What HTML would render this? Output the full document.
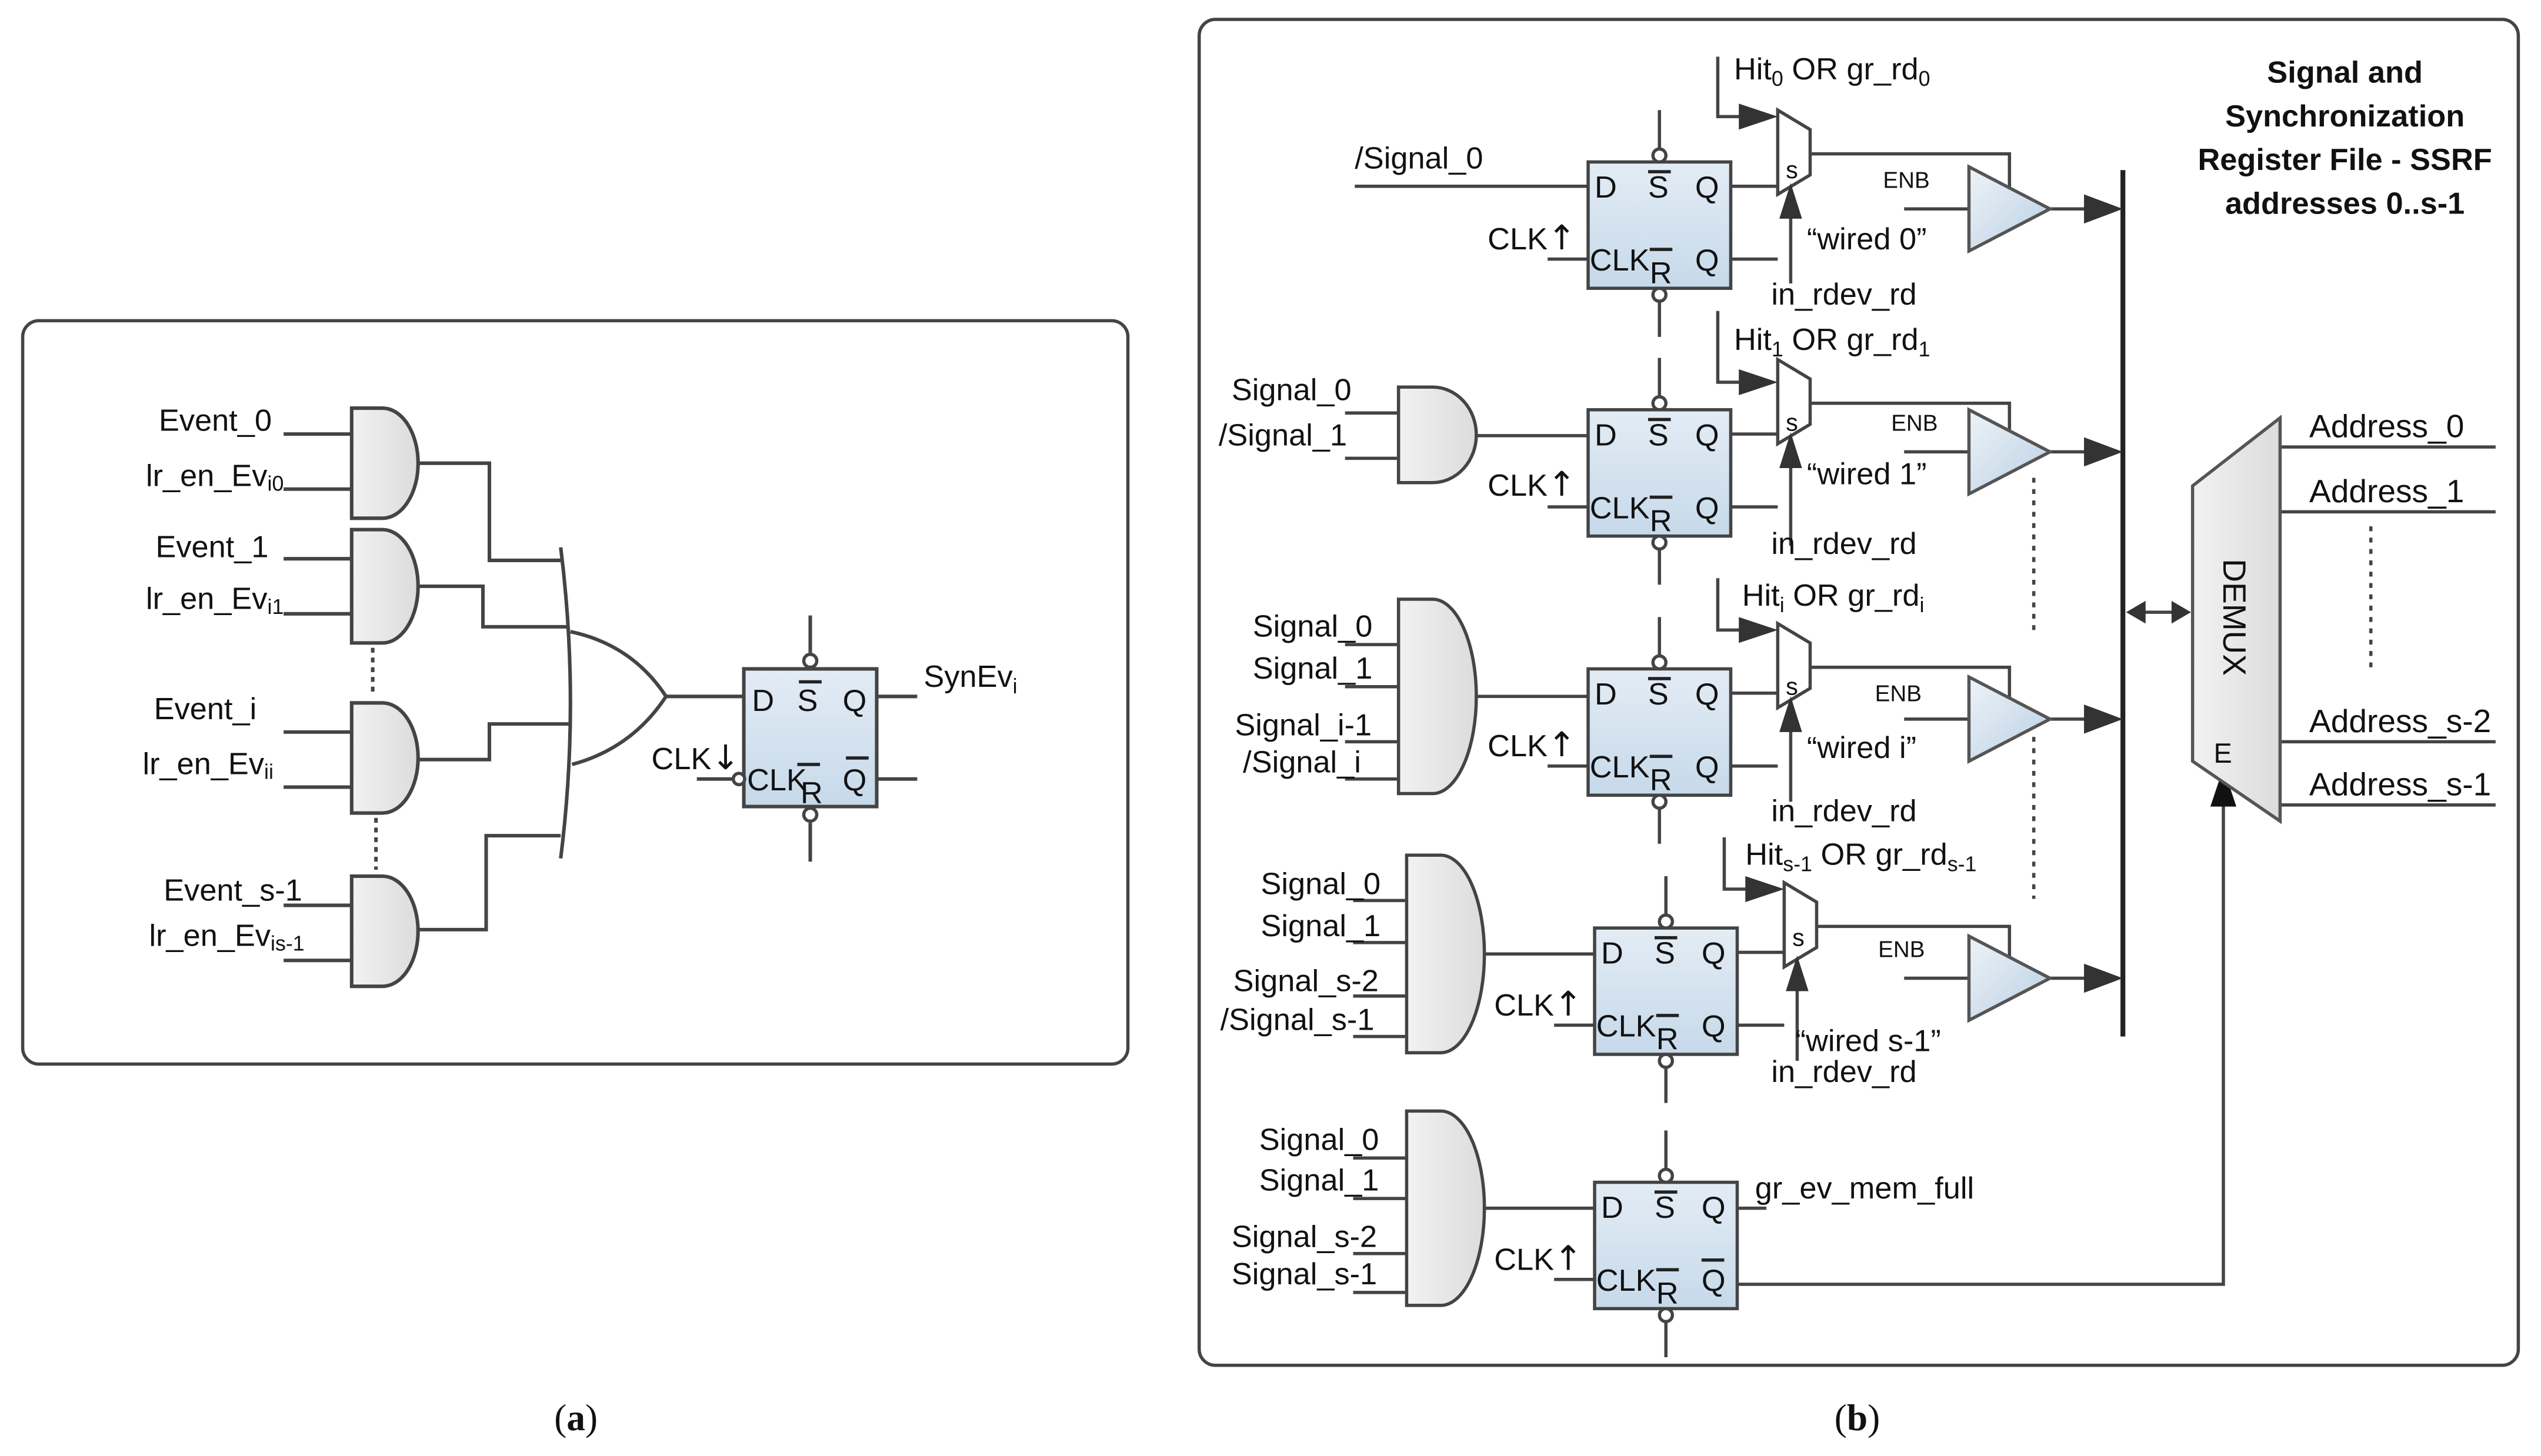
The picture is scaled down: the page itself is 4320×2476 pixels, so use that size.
<!DOCTYPE html>
<html><head><meta charset="utf-8">
<style>
html,body{margin:0;padding:0;background:#fff;}
svg{display:block;}
text{font-family:"Liberation Sans",sans-serif;fill:#111;}
.ar{font-family:"DejaVu Sans",sans-serif;}
</style></head><body>
<svg width="4320" height="2476" viewBox="0 0 1568 899" preserveAspectRatio="none" xmlns="http://www.w3.org/2000/svg">
<defs>
<linearGradient id="ff" x1="0" y1="0" x2="0" y2="1"><stop offset="0" stop-color="#e3ecf5"/><stop offset="1" stop-color="#c6d9ea"/></linearGradient>
<linearGradient id="bf" x1="0" y1="0" x2="1" y2="1"><stop offset="0" stop-color="#eef3f8"/><stop offset="1" stop-color="#b9cfe3"/></linearGradient>
<linearGradient id="gt" x1="0" y1="0" x2="1" y2="0"><stop offset="0" stop-color="#f2f2f2"/><stop offset="1" stop-color="#dcdcdc"/></linearGradient>
</defs>
<g stroke="#444" stroke-width="2" fill="none">
<rect x="14" y="198" width="682" height="459" rx="10"/>
<rect x="740" y="12" width="814" height="831" rx="10"/>
</g>

<!-- PANEL A -->
<g stroke="#444" stroke-width="2.2" fill="url(#gt)">
<path d="M217,252 H236 A22,34 0 0 1 236,320 H217 Z"/>
<path d="M217,327 H236 A22,35 0 0 1 236,397 H217 Z"/>
<path d="M217,434 H236 A22,34 0 0 1 236,502 H217 Z"/>
<path d="M217,541 H236 A22,34 0 0 1 236,609 H217 Z"/>
</g>
<g stroke="#444" stroke-width="2.2" fill="none">
<path d="M175,268H217M175,302H217M175,345H217M175,379H217M175,452H217M175,486H217M175,559H217M175,593H217"/>
<path d="M258,286H302V346H346M258,362H298V387H351M258,469H302V447H352M258,574H300V516H346"/>
<path d="M346,338 Q358,434 346,530"/>
<path d="M352,390 Q390,398 411,430 Q390,462 353,472"/>
<path d="M411,430H459"/>
<path d="M430,481H454"/>
<path d="M541,430H566M541,481H566"/>
<path d="M500,380V403M500,508V532"/>
</g>
<g stroke="#444" stroke-width="2.2" stroke-dasharray="3,3"><path d="M230,400V430M232,505V537"/></g>
<rect x="459" y="413" width="82" height="85" fill="url(#ff)" stroke="#444" stroke-width="2.2"/>
<g stroke="#444" stroke-width="2" fill="#fff"><circle cx="500" cy="408" r="4"/><circle cx="500" cy="503" r="4"/><circle cx="456" cy="481" r="3.5"/></g>
<g font-size="19">
<text x="98" y="266">Event_0</text>
<text x="90" y="300">lr_en_Ev<tspan font-size="13" dy="3">i0</tspan></text>
<text x="96" y="344">Event_1</text>
<text x="90" y="376">lr_en_Ev<tspan font-size="13" dy="3">i1</tspan></text>
<text x="95" y="444">Event_i</text>
<text x="88" y="478">lr_en_Ev<tspan font-size="13" dy="3">ii</tspan></text>
<text x="101" y="556">Event_s-1</text>
<text x="92" y="584">lr_en_Ev<tspan font-size="13" dy="3">is-1</tspan></text>
<text x="570" y="424">SynEv<tspan font-size="13" dy="4">i</tspan></text>
<text x="402" y="475">CLK<tspan class="ar" font-size="21">↓</tspan></text>
<text x="464" y="439">D</text><text x="492" y="439">S</text><text x="520" y="439">Q</text>
<text x="461" y="488">CLK</text><text x="494" y="496">R</text><text x="520" y="488">Q</text>
</g>
<g stroke="#222" stroke-width="2"><path d="M493,421H507M492,472H506M522,468H536"/></g>

<!-- PANEL B: AND gates -->
<g stroke="#444" stroke-width="2" fill="url(#gt)">
<path d="M863,239H884A27,29.5 0 0 1 884,298H863Z"/>
<path d="M863,370H884A27,60 0 0 1 884,490H863Z"/>
<path d="M868,528H889A27,61 0 0 1 889,650H868Z"/>
<path d="M868,686H889A27,60 0 0 1 889,806H868Z"/>
</g>
<g stroke="#444" stroke-width="2" fill="none">
<path d="M836,115H980"/>
<path d="M830,255H863M830,283H863M911,269H980"/>
<path d="M830,398H863M830,424H863M830,458H863M830,481H863M911,430H980"/>
<path d="M835,556H868M835,582H868M835,615H868M835,640H868M915,589H984"/>
<path d="M835,715H868M835,740H868M835,774H868M835,798H868M915,746H984"/>
<path d="M1071,746H1090"/>
<path d="M1071,793H1372V495"/>
<path d="M1310,105V640" stroke-width="3" stroke="#222"/>
<path d="M1407,276H1540M1407,316H1540M1407,458H1540M1407,497H1540"/>
<path d="M1322,378H1342"/>
</g>
<polygon points="1372,474 1364,498 1380,498" fill="#111"/>
<polygon points="1312,378 1324,371 1324,385" fill="#333"/>
<polygon points="1352,378 1340,371 1340,385" fill="#333"/>
<g stroke="#444" stroke-width="2" stroke-dasharray="3,4"><path d="M1255,295V390M1255,455V555M1463,325V415"/></g>
<polygon points="1353,300 1407,258 1407,507 1353,470" fill="url(#gt)" stroke="#555" stroke-width="2"/>
<text x="0" y="0" font-size="20" transform="translate(1372,345) rotate(90)">DEMUX</text>
<text x="1366" y="471" font-size="17">E</text>
<g font-size="20">
<text x="1425" y="270">Address_0</text>
<text x="1425" y="310">Address_1</text>
<text x="1425" y="452">Address_s-2</text>
<text x="1425" y="491">Address_s-1</text>
</g>
<g font-size="19" font-weight="bold" text-anchor="middle">
<text x="1447" y="51">Signal and</text>
<text x="1447" y="78">Synchronization</text>
<text x="1447" y="105">Register File - SSRF</text>
<text x="1447" y="132">addresses 0..s-1</text>
</g>

<!-- flip-flops -->
<g transform="translate(980,100)">
<g stroke="#444" stroke-width="2" fill="none"><path d="M44,-32V-8M44,86V108M88,15H117M88,60H117M-25,60H0"/></g>
<rect x="0" y="0" width="88" height="78" fill="url(#ff)" stroke="#444" stroke-width="2"/>
<g stroke="#444" stroke-width="2" fill="#fff"><circle cx="44" cy="-4" r="4"/><circle cx="44" cy="82" r="4"/></g>
<g font-size="19"><text x="4" y="22">D</text><text x="37" y="22">S</text><text x="66" y="22">Q</text><text x="1" y="67">CLK</text><text x="38" y="75">R</text><text x="66" y="67">Q</text></g>
<g stroke="#222" stroke-width="2"><path d="M37,6H51M38,54H52"/></g>
</g>
<g transform="translate(980,253)">
<g stroke="#444" stroke-width="2" fill="none"><path d="M44,-32V-8M44,86V108M88,15H117M88,60H117M-25,60H0"/></g>
<rect x="0" y="0" width="88" height="78" fill="url(#ff)" stroke="#444" stroke-width="2"/>
<g stroke="#444" stroke-width="2" fill="#fff"><circle cx="44" cy="-4" r="4"/><circle cx="44" cy="82" r="4"/></g>
<g font-size="19"><text x="4" y="22">D</text><text x="37" y="22">S</text><text x="66" y="22">Q</text><text x="1" y="67">CLK</text><text x="38" y="75">R</text><text x="66" y="67">Q</text></g>
<g stroke="#222" stroke-width="2"><path d="M37,6H51M38,54H52"/></g>
</g>
<g transform="translate(980,413)">
<g stroke="#444" stroke-width="2" fill="none"><path d="M44,-32V-8M44,86V108M88,15H117M88,60H117M-25,60H0"/></g>
<rect x="0" y="0" width="88" height="78" fill="url(#ff)" stroke="#444" stroke-width="2"/>
<g stroke="#444" stroke-width="2" fill="#fff"><circle cx="44" cy="-4" r="4"/><circle cx="44" cy="82" r="4"/></g>
<g font-size="19"><text x="4" y="22">D</text><text x="37" y="22">S</text><text x="66" y="22">Q</text><text x="1" y="67">CLK</text><text x="38" y="75">R</text><text x="66" y="67">Q</text></g>
<g stroke="#222" stroke-width="2"><path d="M37,6H51M38,54H52"/></g>
</g>
<g transform="translate(984,573)">
<g stroke="#444" stroke-width="2" fill="none"><path d="M44,-32V-8M44,86V108M88,15H117M88,60H117M-25,60H0"/></g>
<rect x="0" y="0" width="88" height="78" fill="url(#ff)" stroke="#444" stroke-width="2"/>
<g stroke="#444" stroke-width="2" fill="#fff"><circle cx="44" cy="-4" r="4"/><circle cx="44" cy="82" r="4"/></g>
<g font-size="19"><text x="4" y="22">D</text><text x="37" y="22">S</text><text x="66" y="22">Q</text><text x="1" y="67">CLK</text><text x="38" y="75">R</text><text x="66" y="67">Q</text></g>
<g stroke="#222" stroke-width="2"><path d="M37,6H51M38,54H52"/></g>
</g>
<g transform="translate(984,730)">
<g stroke="#444" stroke-width="2" fill="none"><path d="M44,-32V-8M44,86V108M-25,60H0"/></g>
<rect x="0" y="0" width="88" height="78" fill="url(#ff)" stroke="#444" stroke-width="2"/>
<g stroke="#444" stroke-width="2" fill="#fff"><circle cx="44" cy="-4" r="4"/><circle cx="44" cy="82" r="4"/></g>
<g font-size="19"><text x="4" y="22">D</text><text x="37" y="22">S</text><text x="66" y="22">Q</text><text x="1" y="67">CLK</text><text x="38" y="75">R</text><text x="66" y="67">Q</text></g>
<g stroke="#222" stroke-width="2"><path d="M37,6H51M38,54H52M66,48H80"/></g>
</g>

<!-- mux + buffer groups -->
<g transform="translate(1097,68)">
<g stroke="#444" stroke-width="2" fill="none"><path d="M-37,-33V4H-20M8,107V64M20,27H143V61M78,61H118M168,61H190"/></g>
<polygon points="0,0 20,12 20,40 0,52" fill="#fff" stroke="#444" stroke-width="2"/>
<polygon points="-24,-4 0,4 -24,12" fill="#333"/><polygon points="8,45 1,67 15,67" fill="#333"/>
<polygon points="118,35 118,87 168,61" fill="url(#bf)" stroke="#555" stroke-width="2"/>
<polygon points="213,61 189,52 189,70" fill="#333"/>
<text x="5" y="42" font-size="15">s</text><text x="65" y="48" font-size="14">ENB</text>
</g>
<g transform="translate(1097,222)">
<g stroke="#444" stroke-width="2" fill="none"><path d="M-37,-30V14H-20M8,115V64M20,27H143V61M78,57H118M168,57H190"/></g>
<polygon points="0,0 20,12 20,40 0,52" fill="#fff" stroke="#444" stroke-width="2"/>
<polygon points="-24,6 0,14 -24,22" fill="#333"/><polygon points="8,45 1,67 15,67" fill="#333"/>
<polygon points="118,31 118,83 168,57" fill="url(#bf)" stroke="#555" stroke-width="2"/>
<polygon points="213,57 189,48 189,66" fill="#333"/>
<text x="5" y="44" font-size="15">s</text><text x="70" y="44" font-size="14">ENB</text>
</g>
<g transform="translate(1097,385)">
<g stroke="#444" stroke-width="2" fill="none"><path d="M-37,-28V4H-20M8,110V64M20,27H143V61M78,59H118M168,59H190"/></g>
<polygon points="0,0 20,12 20,40 0,52" fill="#fff" stroke="#444" stroke-width="2"/>
<polygon points="-24,-4 0,4 -24,12" fill="#333"/><polygon points="8,45 1,67 15,67" fill="#333"/>
<polygon points="118,33 118,85 168,59" fill="url(#bf)" stroke="#555" stroke-width="2"/>
<polygon points="213,59 189,50 189,68" fill="#333"/>
<text x="5" y="44" font-size="15">s</text><text x="60" y="48" font-size="14">ENB</text>
</g>
<g transform="translate(1101,545)">
<g stroke="#444" stroke-width="2" fill="none"><path d="M-37,-28V4H-20M8,110V64M20,27H139V59M74,59H114M164,59H186"/></g>
<polygon points="0,0 20,12 20,40 0,52" fill="#fff" stroke="#444" stroke-width="2"/>
<polygon points="-24,-4 0,4 -24,12" fill="#333"/><polygon points="8,45 1,67 15,67" fill="#333"/>
<polygon points="114,33 114,85 164,59" fill="url(#bf)" stroke="#555" stroke-width="2"/>
<polygon points="209,59 185,50 185,68" fill="#333"/>
<text x="5" y="39" font-size="15">s</text><text x="58" y="46" font-size="14">ENB</text>
</g>

<g font-size="19">
<text x="1070" y="49">Hit<tspan font-size="13" dy="4">0</tspan><tspan dy="-4"> OR gr_rd</tspan><tspan font-size="13" dy="4">0</tspan></text>
<text x="1070" y="216">Hit<tspan font-size="13" dy="4">1</tspan><tspan dy="-4"> OR gr_rd</tspan><tspan font-size="13" dy="4">1</tspan></text>
<text x="1075" y="374">Hit<tspan font-size="13" dy="4">i</tspan><tspan dy="-4"> OR gr_rd</tspan><tspan font-size="13" dy="4">i</tspan></text>
<text x="1077" y="534">Hit<tspan font-size="13" dy="4">s-1</tspan><tspan dy="-4"> OR gr_rd</tspan><tspan font-size="13" dy="4">s-1</tspan></text>
<text x="1115" y="154">“wired 0”</text>
<text x="1115" y="299">“wired 1”</text>
<text x="1115" y="468">“wired i”</text>
<text x="1108" y="649">“wired s-1”</text>
<text x="1093" y="188">in_rdev_rd</text>
<text x="1093" y="342">in_rdev_rd</text>
<text x="1093" y="507">in_rdev_rd</text>
<text x="1093" y="668">in_rdev_rd</text>
<text x="918" y="154">CLK<tspan class="ar" font-size="21">↑</tspan></text>
<text x="918" y="306">CLK<tspan class="ar" font-size="21">↑</tspan></text>
<text x="918" y="467">CLK<tspan class="ar" font-size="21">↑</tspan></text>
<text x="922" y="627">CLK<tspan class="ar" font-size="21">↑</tspan></text>
<text x="922" y="784">CLK<tspan class="ar" font-size="21">↑</tspan></text>
<text x="836" y="104">/Signal_0</text>
<text x="760" y="247">Signal_0</text>
<text x="752" y="275">/Signal_1</text>
<text x="773" y="393">Signal_0</text>
<text x="773" y="419">Signal_1</text>
<text x="762" y="454">Signal_i-1</text>
<text x="767" y="477">/Signal_i</text>
<text x="778" y="552">Signal_0</text>
<text x="778" y="578">Signal_1</text>
<text x="761" y="612">Signal_s-2</text>
<text x="753" y="636">/Signal_s-1</text>
<text x="777" y="710">Signal_0</text>
<text x="777" y="735">Signal_1</text>
<text x="760" y="770">Signal_s-2</text>
<text x="760" y="793">Signal_s-1</text>
<text x="1083" y="740">gr_ev_mem_full</text>
</g>
<g font-size="23">
<text x="342" y="883" style="font-family:'Liberation Serif',serif">(<tspan font-weight="bold">a</tspan>)</text>
<text x="1132" y="883" style="font-family:'Liberation Serif',serif">(<tspan font-weight="bold">b</tspan>)</text>
</g>
</svg>
</body></html>
